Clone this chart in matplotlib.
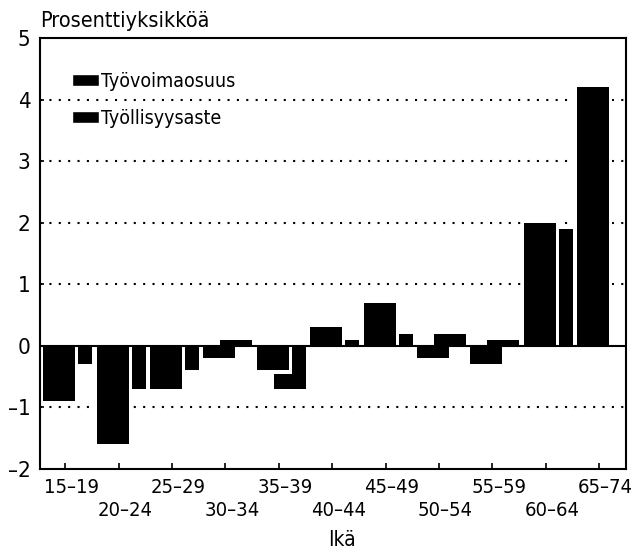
import numpy as np
import matplotlib
matplotlib.use('Agg')
import matplotlib.pyplot as plt
import matplotlib.font_manager as fm
from matplotlib.patches import Patch

# data
ages = ['15–19', '20–24', '25–29', '30–34', '35–39', '40–44',
        '45–49', '50–54', '55–59', '60–64', '65–74']
tyovoimaosuus = [-0.9, -1.6, -0.7, -0.2, -0.4, 0.3, 0.7, -0.2, -0.3, 2.0, 4.2]
tyollisyysaste = [-0.3, -0.7, -0.4, 0.1, -0.7, 0.1, 0.2, 0.2, 0.1, 1.9, np.nan]
yticks = [-2, -1, 0, 1, 2, 3, 4, 5]

# narrow font if there is one
names = {f.name for f in fm.fontManager.ttflist}
if 'Liberation Sans Narrow' in names:
    plt.rcParams['font.family'] = ['Liberation Sans Narrow', 'DejaVu Sans']
else:
    plt.rcParams['font.family'] = ['DejaVu Sans']
    plt.rcParams['font.stretch'] = 'condensed'

fig = plt.figure(figsize=(6.34, 5.52), dpi=100)
ax = fig.add_axes([40/634, 83/552, 586/634, 431/552])

x = np.arange(len(ages))
w = 0.6
gx, gy = 0.056, 0.05   # white gap round the front bars
v1 = np.array(tyovoimaosuus)

# second series sits behind, shifted right
ax.bar(x + 0.206, tyollisyysaste, w, color='black', linewidth=0, zorder=2)
# white halo, then the front bars
ax.bar(x - 0.112, v1 + np.sign(v1) * gy, w + 2 * gx, color='white',
       linewidth=0, zorder=2.5)
ax.bar(x - 0.112, v1, w, color='black', linewidth=0, zorder=3)

ax.axhline(0, color='black', lw=1.5, zorder=4)
for yv in yticks:
    if yv not in (-2, 0, 5):
        ax.axhline(yv, color='black', lw=1.5, ls=(0, (1, 3.5)), zorder=1)

ax.set_xlim(-0.47, 10.5)
ax.set_ylim(-2, 5)
ax.set_yticks(yticks)
ax.set_yticklabels([str(v).replace('-', '–') for v in yticks], fontsize=16)
ax.set_xticks(x)
ax.set_xticklabels([])
ax.tick_params(axis='x', direction='in', length=4, width=1.2)
ax.tick_params(axis='y', direction='in', length=3, width=1.2, pad=7)
for s in ax.spines.values():
    s.set_linewidth(1.5)

# staggered age labels
for i, lab in enumerate(ages):
    yy = -0.044 if i % 2 == 0 else -0.097
    ax.text(i + 0.12, yy, lab, transform=ax.get_xaxis_transform(),
            ha='center', va='center', fontsize=14.5)

fig.text(342/634, 1 - 540/552, 'Ikä', ha='center', va='center', fontsize=15)
fig.text(40/634, 1 - 27/552, 'Prosenttiyksikköä', ha='left', va='baseline',
         fontsize=15.5)

handles = [Patch(facecolor='black', edgecolor='white', label='Työvoimaosuus'),
           Patch(facecolor='black', edgecolor='white', label='Työllisyysaste')]
ax.legend(handles=handles, loc='upper left', bbox_to_anchor=(0.0546, 0.921),
          frameon=False, fontsize=14, handlelength=1.4, handleheight=0.6,
          handletextpad=0.1, labelspacing=0.9, borderpad=0, borderaxespad=0)

fig.savefig('out.png', dpi=100)
